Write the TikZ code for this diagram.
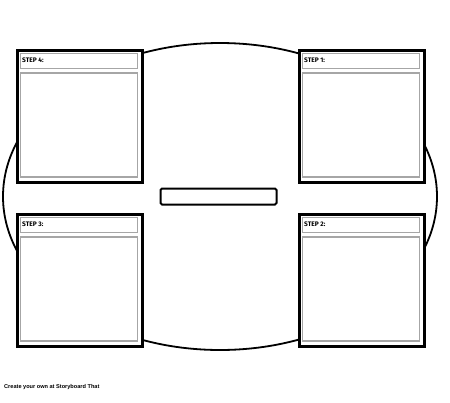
\documentclass[tikz,border=0pt]{standalone}
\usepackage{fontspec}
\setmainfont{Fira Sans}
\newfontfamily\footfont{Liberation Sans}
\begin{document}
\begin{tikzpicture}[x=1pt,y=-1pt,
  outerbox/.style={draw=black,line width=3pt,fill=white,minimum width=125pt,minimum height=132pt,inner sep=0pt,anchor=north west},
  headbox/.style={draw=black!35,line width=1.3pt,fill=white,minimum width=117pt,minimum height=15pt,inner sep=0pt,anchor=north west},
  bodybox/.style={draw=black!35,line width=1.3pt,fill=white,minimum width=117pt,minimum height=104pt,inner sep=0pt,anchor=north west},
  steplabel/.style={font=\fontsize{6.6}{7}\selectfont\bfseries,inner sep=0pt,anchor=west},
  centerbox/.style={draw=black,line width=2pt,rounded corners=1.5pt,minimum width=116pt,minimum height=16pt,inner sep=0pt}]
\useasboundingbox (0,0) rectangle (450,402);
\fill[white] (0,0) rectangle (450,402);
% ellipse
\draw[line width=1.8pt] (220,196.5) ellipse [x radius=217pt, y radius=153.5pt];
% boxes
\foreach \n/\x/\y/\t in {b4/15.5/48.5/STEP 4:, b1/297.5/48.5/STEP 1:, b3/15.5/212.5/STEP 3:, b2/297.5/212.5/STEP 2:}{
  \node[outerbox] (\n) at (\x,\y) {};
  \node[headbox] (\n h) at ([xshift=4pt,yshift=-4pt]\n.north west) {};
  \node[bodybox] (\n b) at ([yshift=-3.5pt]\n h.south west) {};
  \node[steplabel] (\n t) at ([xshift=2.5pt]\n h.west) {\t};
}
\node[centerbox] (c) at (218.5,196.5) {};
\node[font=\footfont\fontsize{5.6}{7}\selectfont\bfseries,anchor=west,inner sep=0pt] (foot) at (4,387) {Create your own at Storyboard That};
\end{tikzpicture}
\end{document}
